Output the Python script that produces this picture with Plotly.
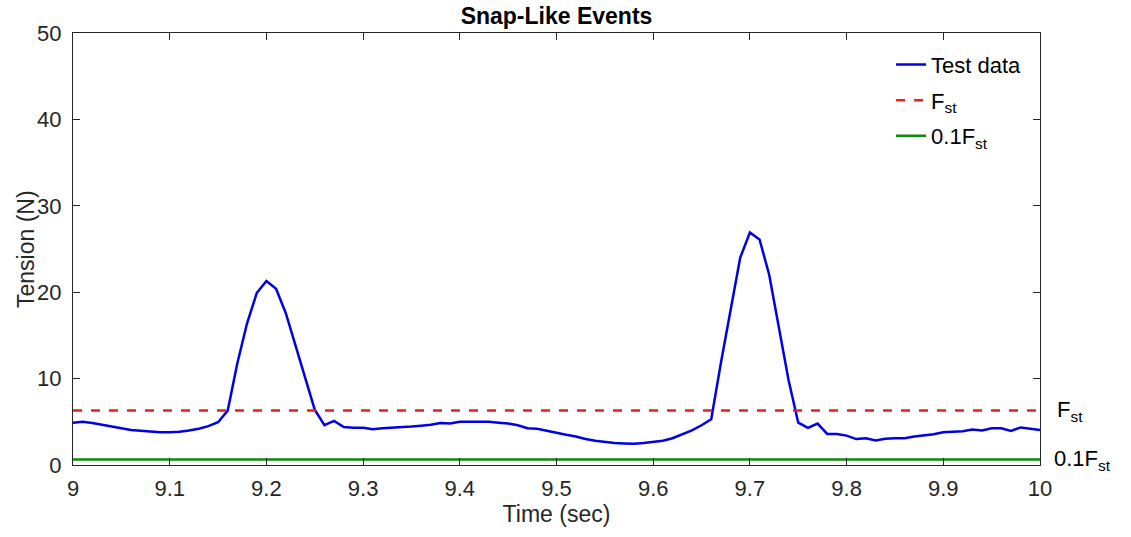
import plotly.graph_objects as go

time = [round(9.0 + 0.01 * i, 2) for i in range(101)]
tension = [
    4.9, 5.0, 4.85, 4.65, 4.4, 4.25, 4.05, 3.95, 3.85, 3.8,
    3.8, 3.85, 4.0, 4.2, 4.5, 4.95, 6.3, 11.8, 16.4, 19.9,
    21.3, 20.4, 17.6, 13.8, 10.0, 6.4, 4.6, 5.1, 4.4, 4.3,
    4.3, 4.15, 4.25, 4.3, 4.35, 4.45, 4.55, 4.65, 4.85, 4.8,
    5.0, 5.0, 5.0, 5.0, 4.9, 4.8, 4.6, 4.25, 4.2, 3.95,
    3.7, 3.5, 3.3, 3.0, 2.8, 2.65, 2.55, 2.5, 2.45, 2.55,
    2.65, 2.8, 3.1, 3.55, 4.0, 4.6, 5.3, 11.8, 18.0, 24.0,
    26.9, 26.1, 22.0, 16.0, 9.8, 4.9, 4.3, 4.8, 3.6, 3.6,
    3.4, 3.0, 3.1, 2.85, 3.05, 3.1, 3.1, 3.3, 3.45, 3.55,
    3.8, 3.85, 3.9, 4.1, 4.0, 4.25, 4.25, 3.95, 4.35, 4.2,
    4.05,
]
F_st = 6.3
F_low = 0.1 * F_st
x_range = [9, 10]
x_ticks = [9, 9.1, 9.2, 9.3, 9.4, 9.5, 9.6, 9.7, 9.8, 9.9, 10]
x_ticklabels = ["9", "9.1", "9.2", "9.3", "9.4", "9.5", "9.6", "9.7", "9.8", "9.9", "10"]
y_ticks = [0, 10, 20, 30, 40, 50]

FONT = "Liberation Sans, Arial, sans-serif"
AX = "#262626"

fig = go.Figure()
fig.add_trace(go.Scatter(x=time, y=tension, mode="lines", name="Test data",
                         legendgroup="a",
                         line=dict(color="#0000e6", width=2.5)))
fig.add_trace(go.Scatter(x=x_range, y=[F_st, F_st], mode="lines", name="F<sub>st</sub>",
                         legendgroup="b",
                         line=dict(color="#ee1c1c", width=2.5, dash="dash")))
fig.add_trace(go.Scatter(x=x_range, y=[F_low, F_low], mode="lines", name="0.1F<sub>st</sub>",
                         legendgroup="c",
                         line=dict(color="#0c8a0c", width=2.5)))

fig.update_layout(
    width=1131, height=537,
    margin=dict(l=73, r=91, t=33, b=72),
    paper_bgcolor="white", plot_bgcolor="white",
    font=dict(family=FONT, size=22, color=AX),
    title=dict(text="<b>Snap-Like Events</b>", x=(73 + 1040) / 2 / 1131, xanchor="center",
               y=1 - 16 / 537, yanchor="middle", font=dict(size=23, color="black")),
    showlegend=True,
    legend=dict(x=0.846, y=0.975, xanchor="left", yanchor="top",
                bgcolor="rgba(0,0,0,0)", font=dict(size=22, color="black"),
                itemwidth=30, tracegroupgap=4),
    xaxis=dict(range=x_range, tickvals=x_ticks, ticktext=x_ticklabels,
               showgrid=False, zeroline=False, showline=True, linecolor=AX, linewidth=1,
               mirror="ticks", ticks="inside", ticklen=7, tickcolor=AX,
               tickfont=dict(size=22, color=AX), ticklabelstandoff=4,
               title=dict(text="Time (sec)", font=dict(size=23, color=AX), standoff=0)),
    yaxis=dict(range=[0, 50], tickvals=y_ticks,
               showgrid=False, zeroline=False, showline=True, linecolor=AX, linewidth=1,
               mirror="ticks", ticks="inside", ticklen=7, tickcolor=AX,
               tickfont=dict(size=22, color=AX), ticklabelstandoff=6),
)

fig.add_annotation(x=(26 - 73) / 967, xref="paper", y=0.5, yref="paper", text="Tension (N)",
                   textangle=-90, showarrow=False, xanchor="center", yanchor="middle",
                   font=dict(size=23, color=AX))
fig.add_annotation(x=1.015, xref="paper", y=F_st, yref="y", text="F<sub>st</sub>",
                   showarrow=False, xanchor="left", yanchor="middle",
                   font=dict(size=22, color="black"))
fig.add_annotation(x=1.012, xref="paper", y=F_low, yref="y", text="0.1F<sub>st</sub>",
                   showarrow=False, xanchor="left", yanchor="middle",
                   font=dict(size=22, color="black"))

fig.write_html("out.html")
